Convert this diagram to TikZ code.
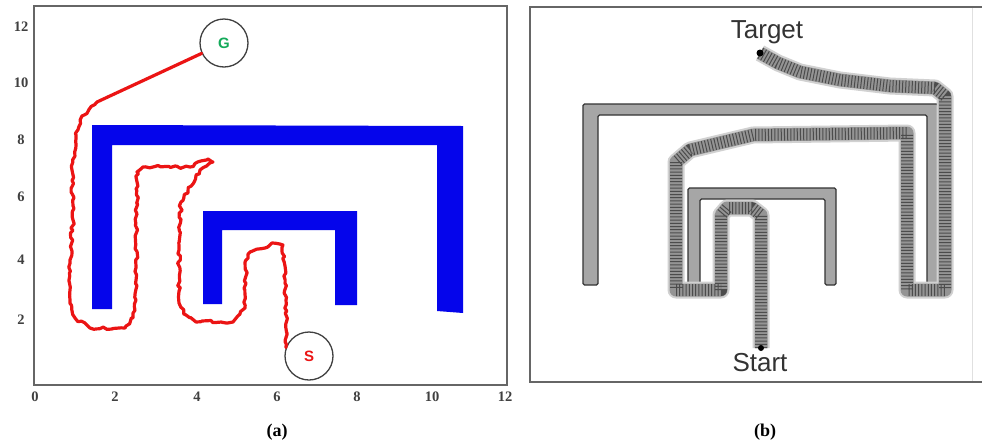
\documentclass[tikz,border=0pt]{standalone}
\usepackage{fontspec}
\setmainfont{Liberation Serif}
\newfontfamily\sansf{Liberation Sans}
\usetikzlibrary{decorations.pathmorphing}
\definecolor{wallblue}{RGB}{5,5,235}
\definecolor{pathred}{RGB}{235,20,20}
\definecolor{ggreen}{RGB}{20,170,90}
\tikzset{
  frameline/.style={draw=black!60, line width=2},
  bluewall/.style={fill=wallblue, draw=none},
  graywall/.style={fill=black!35, draw=black!80, line width=1.3, rounded corners=1.5},
  redpath/.style={draw=pathred, line width=3.2, line join=round, line cap=round},
  wiggle/.style={decorate, decoration={random steps, segment length=3.5pt, amplitude=1.5pt}},
  endcircle/.style={circle, draw=black!75, line width=1.3, minimum size=48, inner sep=0, font=\sansf\bfseries\fontsize{15}{15}\selectfont},
  ticklab/.style={font=\bfseries\fontsize{14.5}{14.5}\selectfont, text=black!75},
  caption/.style={font=\bfseries\fontsize{18}{18}\selectfont},
  biglab/.style={font=\sansf\fontsize{26}{26}\selectfont, text=black!80},
  trailhalo/.style={draw=black!18, line width=17, line join=round},
  trailbase/.style={draw=black!42, line width=13, line join=round},
  trailhatch/.style={draw=black!70, line width=12, line join=round, dash pattern=on 1pt off 2.2pt},
}
\begin{document}
\begin{tikzpicture}[x=1pt, y=-1pt]
\pgfmathsetseed{7}
\useasboundingbox[fill=white] (0,0) rectangle (982,445);

% ---------- panel (a) ----------
\draw[frameline] (34,6) rectangle (507,385);
\foreach \v/\px in {0/35, 2/115, 4/197, 6/277, 8/357, 10/432, 12/505}
  \node[ticklab] (xt\v) at (\px,397) {\v};
\foreach \v/\py in {12/27, 10/83, 8/140, 6/197, 4/260, 2/320}
  \node[ticklab] (yt\v) at (21,\py) {\v};

\fill[bluewall] (92,309) -- (92,125) -- (463,126) -- (463,313) -- (437,311) -- (437,145) -- (112,145) -- (112,309) -- cycle;
\fill[bluewall] (203,304) -- (203,211) -- (357,211) -- (357,305) -- (335,305) -- (335,230) -- (222,230) -- (222,304) -- cycle;

\node[endcircle, text=ggreen] (G) at (224,43) {G};
\node[endcircle, text=pathred] (S) at (309,356) {S};

\coordinate (bend) at (97,102);
\draw[redpath] (G) -- (bend);
\draw[redpath, wiggle] (bend) -- (82,116) -- (76,135) -- (72,170) -- (73,220) -- (70,260) -- (70,300) -- (75,318) -- (90,328) -- (125,328) -- (133,318) -- (136,300) -- (137,172) -- (143,167) -- (190,167) -- (208,159) -- (213,162) -- (200,170) -- (181,202) -- (179,250) -- (179,303) -- (186,315) -- (196,322) -- (233,322) -- (245,308) -- (246,260) -- (250,252) -- (265,248) -- (272,243) -- (283,245) -- (286,300) -- (S.160);

\node[caption] (capa) at (277,432) {(a)};

% ---------- panel (b) ----------
\draw[black!60, line width=2.4] (982,7) -- (530,7) -- (530,382) -- (982,382);
\draw[black!12, line width=1] (972,8) -- (972,381);

\draw[graywall] (583,285) -- (583,104) -- (938,104) -- (938,287) -- (927,287) -- (927,115) -- (598,115) -- (598,285) -- cycle;
\draw[graywall] (688,287) -- (688,188) -- (836,188) -- (836,285) -- (825,285) -- (825,199) -- (700,199) -- (700,287) -- cycle;

\coordinate (st) at (761,348);
\coordinate (tg) at (760,53);
\foreach \sty in {trailhalo, trailbase, trailhatch}
  \draw[\sty] (st) -- (761,215) -- (752,208) -- (727,208) -- (721,215) -- (721,290) -- (676,290) -- (676,162) -- (690,150) -- (753,135) -- (907,133) -- (907,290) -- (945,290) -- (945,96) -- (935,88) -- (890,86) -- (840,80) -- (800,72) -- (778,63) -- (tg);
\fill[black] (tg) circle (3.5);
\fill[black] (st) circle (3);

\node[biglab] (target) at (767,32) {Target};
\node[biglab] (start) at (760,363) {Start};
\node[caption] (capb) at (765,432) {(b)};
\end{tikzpicture}
\end{document}
